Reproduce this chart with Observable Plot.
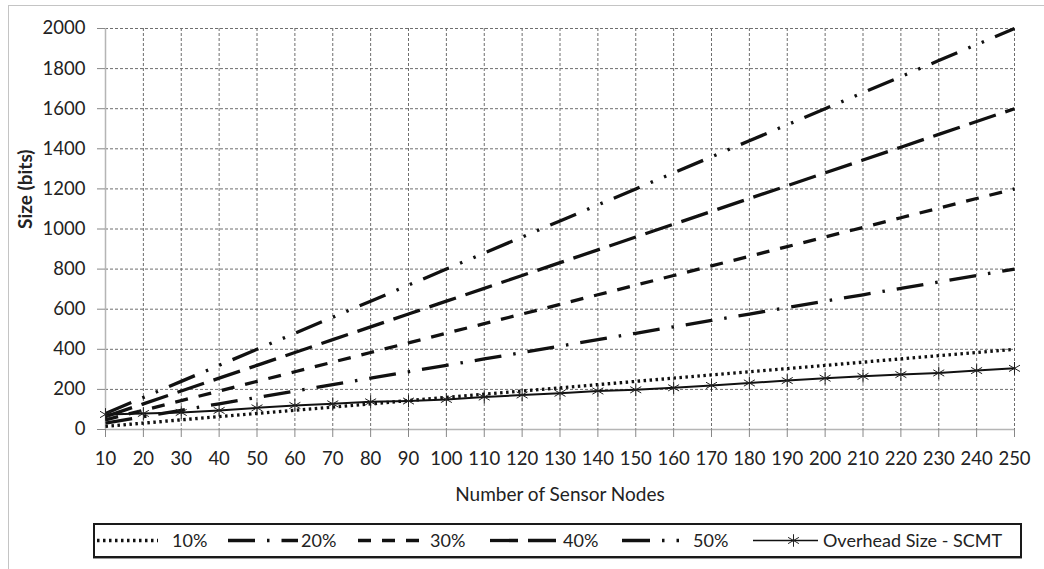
<!DOCTYPE html>
<html>
<head>
<meta charset="utf-8">
<script src="https://cdn.jsdelivr.net/npm/d3@7"></script>
<script src="https://cdn.jsdelivr.net/npm/@observablehq/plot@0.6"></script>
<style>
  html, body { margin: 0; padding: 0; background: #fff; }
  #wrap { position: relative; width: 1044px; height: 569px; overflow: hidden; font-family: Lato, "Open Sans", sans-serif; }
  #chart { position: absolute; left: 0; top: 0; }
  .frameTop { position: absolute; left: 8px; top: 5px; width: 1036px; height: 0; border-top: 1.5px solid #c4c4c4; z-index: 2; }
  .frameLeft { position: absolute; left: 8px; top: 5px; width: 0; height: 564px; border-left: 1.5px solid #c4c4c4; z-index: 2; }
  #legend { position: absolute; left: 93px; top: 523px; width: 925px; height: 31px; border: 2px solid #1a1a1a; box-shadow: 0 1px 0 #999; background: #fff; z-index: 3; }
</style>
</head>
<body>
<div id="wrap">
  <div id="chart"></div>
  <div class="frameTop"></div>
  <div class="frameLeft"></div>
  <div id="legend"></div>
</div>
<script>
// ---- data ----
const nodes = [10,20,30,40,50,60,70,80,90,100,110,120,130,140,150,160,170,180,190,200,210,220,230,240,250];
const p10 = [16,32,48,64,80,96,112,128,144,160,176,192,208,224,240,256,272,288,304,320,336,352,368,384,400];
const p20 = [32,64,96,128,160,192,224,256,288,320,352,384,416,448,480,512,544,576,608,640,672,704,736,768,800];
const p30 = [48,96,144,192,240,288,336,384,432,480,528,576,624,672,720,768,816,864,912,960,1008,1056,1104,1152,1200];
const p40 = [64,128,192,256,320,384,448,512,576,640,704,768,832,896,960,1024,1088,1152,1216,1280,1344,1408,1472,1536,1600];
const p50 = [80,160,240,320,400,480,560,640,720,800,880,960,1040,1120,1200,1280,1360,1440,1520,1600,1680,1760,1840,1920,2000];
const scmt = [75,80,85,95,108,120,128,138,142,150,162,172,181,192,198,208,220,232,244,256,265,274,282,294,305];
const yTicks = [0,200,400,600,800,1000,1200,1400,1600,1800,2000];
const seriesNames = ["10%","20%","30%","40%","50%","Overhead Size - SCMT"];
const xTitle = "Number of Sensor Nodes";
const yTitle = "Size (bits)";

// ---- styles per series ----
const dashes = {
  "10%": "2.5,3.5",
  "20%": "27,12,2.5,12",
  "30%": "13,11",
  "40%": "28,10",
  "50%": "28,12,2.5,12,2.5,12"
};
const seriesVals = [p10, p20, p30, p40, p50];

const lineMarks = seriesVals.map((vals, i) => {
  const name = seriesNames[i];
  const rows = nodes.map((n, j) => ({x: n, y: vals[j]}));
  return Plot.line(rows, {x: "x", y: "y", stroke: "#111", strokeWidth: 3.3, strokeDasharray: dashes[name], strokeLinecap: "butt"});
});
const scmtRows = nodes.map((n, j) => ({x: n, y: scmt[j]}));

const plot = Plot.plot({
  width: 1044,
  height: 515,
  marginLeft: 105,
  marginRight: 30,
  marginTop: 28,
  marginBottom: 86,
  style: {fontFamily: "Lato, 'Open Sans', sans-serif", fontSize: "18.5px", color: "#222", background: "transparent"},
  x: {domain: [10, 250]},
  y: {domain: [0, 2000]},
  marks: [
    Plot.ruleX(nodes.slice(1), {stroke: "#6e6e6e", strokeWidth: 1, strokeDasharray: "3,2"}),
    Plot.ruleY(yTicks.slice(1), {stroke: "#6e6e6e", strokeWidth: 1, strokeDasharray: "3,2"}),
    Plot.ruleY([0], {stroke: "#b5b5b5", strokeWidth: 1.5}),
    Plot.ruleX([10], {stroke: "#b5b5b5", strokeWidth: 1.5}),
    Plot.axisX({ticks: nodes, tickSize: 8, tickPadding: 14, stroke: "#888", label: null, tickFormat: d => String(d), fill: "#222"}),
    Plot.axisY({ticks: yTicks, tickSize: 8, tickPadding: 12, stroke: "#888", label: null, tickFormat: d => String(d), fill: "#222"}),
    ...lineMarks,
    Plot.line(scmtRows, {x: "x", y: "y", stroke: "#111", strokeWidth: 2}),
    Plot.dot(scmtRows, {x: "x", y: "y", symbol: "asterisk", r: 6, stroke: "#222", strokeWidth: 1}),
    Plot.text([xTitle], {frameAnchor: "bottom", dy: 71, fontSize: 19, fill: "#222"}),
    Plot.text([yTitle], {frameAnchor: "left", dx: -80, rotate: -90, fontSize: 19, fontWeight: "bold", fill: "#222"})
  ]
});
document.getElementById("chart").appendChild(plot);

// ---- legend ----
const legendX0 = 95; // absolute left of legend inner area
const legendItems = [
  {name: seriesNames[0], x1: 97, x2: 158, tx: 172},
  {name: seriesNames[1], x1: 228, x2: 298, tx: 301},
  {name: seriesNames[2], x1: 358, x2: 425, tx: 430},
  {name: seriesNames[3], x1: 490, x2: 560, tx: 563},
  {name: seriesNames[4], x1: 622, x2: 683, tx: 693},
  {name: seriesNames[5], x1: 753, x2: 818, tx: 823}
];
const svg = d3.select("#legend").append("svg")
  .attr("width", 925).attr("height", 31)
  .style("display", "block")
  .style("font-family", "Lato, 'Open Sans', sans-serif")
  .style("font-size", "18px");
const cy = 15.5;
legendItems.forEach((it, i) => {
  const x1 = it.x1 - legendX0, x2 = it.x2 - legendX0;
  if (i < 5) {
    svg.append("line").attr("x1", x1).attr("x2", x2).attr("y1", cy).attr("y2", cy)
      .attr("stroke", "#111").attr("stroke-width", 3.3).attr("stroke-dasharray", dashes[it.name]);
  } else {
    svg.append("line").attr("x1", x1).attr("x2", x2).attr("y1", cy).attr("y2", cy)
      .attr("stroke", "#111").attr("stroke-width", 1.5);
    svg.append("path").attr("d", d3.symbol(d3.symbolAsterisk, 110)())
      .attr("transform", `translate(${(x1 + x2) / 2 + 8},${cy})`)
      .attr("fill", "none").attr("stroke", "#222").attr("stroke-width", 1);
  }
  svg.append("text").attr("x", it.tx - legendX0).attr("y", cy).attr("dy", "0.35em")
    .attr("fill", "#222").text(it.name);
});
</script>
</body>
</html>
